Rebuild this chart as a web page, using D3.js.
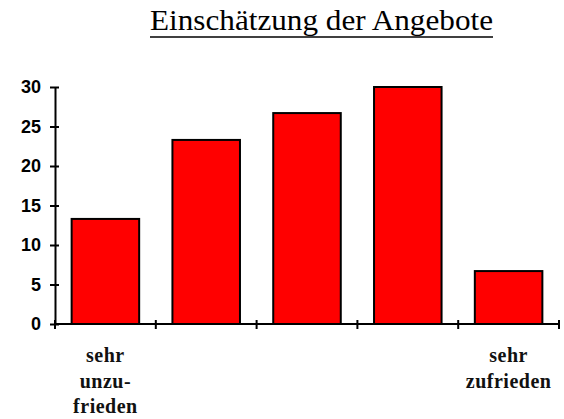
<!DOCTYPE html>
<html>
<head>
<meta charset="utf-8">
<script src="https://cdn.jsdelivr.net/npm/d3@7"></script>
<style>
  body { margin: 0; background: #fff; }
</style>
</head>
<body>
<div id="chart"></div>
<script>
// data
var categories = ["c1", "c2", "c3", "c4", "c5"];
var catLabels = [["sehr", "unzu-", "frieden"], [], [], [], ["sehr", "zufrieden"]];
var values = [13.3, 23.3, 26.7, 30, 6.7];
var yTicks = [0, 5, 10, 15, 20, 25, 30];
var title = "Einschätzung der Angebote";

var width = 564;
var height = 419;
var plotLeft = 55, plotRight = 559, plotTop = 87, plotBottom = 324;

var svg = d3.select("#chart")
    .append("svg")
    .attr("width", width)
    .attr("height", height);

var x = d3.scaleBand()
    .domain(categories)
    .range([plotLeft, plotRight])
    .paddingInner(0.33)
    .paddingOuter(0.165);

var y = d3.scaleLinear()
    .domain([0, 30])
    .range([plotBottom, plotTop]);

// bars
svg.selectAll("rect.bar")
    .data(values)
    .enter()
    .append("rect")
    .attr("class", "bar")
    .attr("x", function (d, i) { return x(categories[i]); })
    .attr("y", function (d) { return y(d); })
    .attr("width", x.bandwidth())
    .attr("height", function (d) { return y(0) - y(d); })
    .style("fill", "#ff0000")
    .style("stroke", "#000")
    .style("stroke-width", 2);

// y axis
var yAxis = svg.append("g")
    .attr("transform", "translate(" + plotLeft + ",0)")
    .call(d3.axisLeft(y).tickValues(yTicks).tickSize(0).tickPadding(14));
yAxis.select(".domain").attr("stroke", "#000").attr("stroke-width", 2);
yAxis.selectAll("text")
    .style("font-family", "'Liberation Sans', Arial, sans-serif")
    .style("font-weight", "bold")
    .style("font-size", "18px")
    .attr("fill", "#000");
yAxis.selectAll(".tick").append("line")
    .attr("x1", -5).attr("x2", 4)
    .attr("stroke", "#000").attr("stroke-width", 2);

// x axis line and ticks between bars
var step = x.step();
var xTicks = d3.range(categories.length + 1).map(function (i) {
    return x(categories[0]) - x.paddingOuter() * step + i * step;
});
svg.append("line")
    .attr("x1", plotLeft).attr("x2", plotRight)
    .attr("y1", y(0)).attr("y2", y(0))
    .attr("stroke", "#000").attr("stroke-width", 2);
svg.selectAll("line.xtick")
    .data(xTicks)
    .enter()
    .append("line")
    .attr("class", "xtick")
    .attr("x1", function (d) { return d; })
    .attr("x2", function (d) { return d; })
    .attr("y1", y(0) - 4)
    .attr("y2", y(0) + 5)
    .attr("stroke", "#000").attr("stroke-width", 2);

// category labels
categories.forEach(function (c, i) {
    var t = svg.append("text")
        .attr("x", x(c) + x.bandwidth() / 2)
        .attr("y", 362)
        .attr("text-anchor", "middle")
        .style("font-family", "'Liberation Serif', 'Times New Roman', serif")
        .style("font-weight", "bold")
        .style("font-size", "20px")
        .style("letter-spacing", "0.5px")
        .style("fill", "#111");
    catLabels[i].forEach(function (line, j) {
        t.append("tspan")
            .attr("x", x(c) + x.bandwidth() / 2)
            .attr("dy", j === 0 ? 0 : 25.5)
            .text(line);
    });
});

// title with underline
var tt = svg.append("text")
    .attr("x", 321.5)
    .attr("y", 30)
    .attr("text-anchor", "middle")
    .attr("textLength", 343)
    .attr("lengthAdjust", "spacingAndGlyphs")
    .style("font-family", "'Liberation Serif', 'Times New Roman', serif")
    .style("font-size", "29px")
    .style("fill", "#000")
    .text(title);
svg.append("line")
    .attr("x1", 321.5 - 343 / 2).attr("x2", 321.5 + 343 / 2)
    .attr("y1", 37).attr("y2", 37)
    .attr("stroke", "#000").attr("stroke-width", 1.5);
</script>
</body>
</html>
